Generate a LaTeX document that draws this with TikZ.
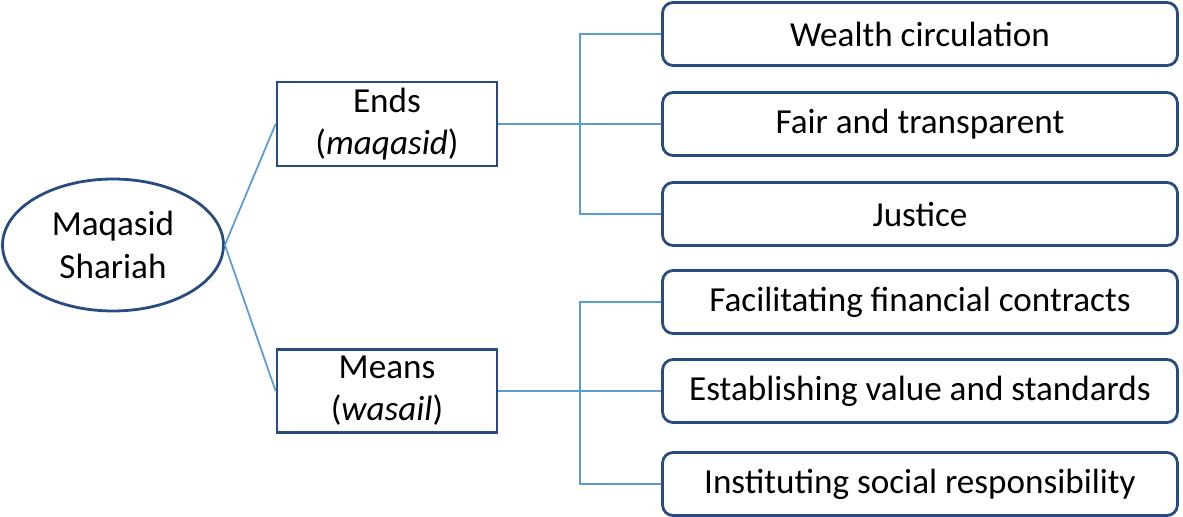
\documentclass[tikz,border=0pt]{standalone}
\usepackage{fontspec}
\setmainfont{Carlito}
\usetikzlibrary{shapes.geometric}
\definecolor{boxblue}{rgb}{0.16, 0.30, 0.50}
\definecolor{linkblue}{rgb}{0.36, 0.61, 0.84}

\begin{document}
\begin{tikzpicture}[x=0.02cm, y=-0.02cm, font=\fontsize{20}{24}\selectfont,
	box/.style={draw=boxblue, line width=1.6pt, align=center},
	goal/.style={box, rounded corners=6pt, minimum width=10.3cm, minimum height=1.26cm},
	link/.style={draw=linkblue, line width=1pt}]
				\useasboundingbox (0,0) rectangle (1183,517);
				\node[box, ellipse, minimum width=4.42cm, minimum height=2.64cm] (root) at (113,245) {Maqasid\\Shariah};
				\node[box, minimum width=4.4cm, minimum height=1.68cm] (ends) at (387,124) {Ends\\(\textit{maqasid})};
				\node[box, minimum width=4.4cm, minimum height=1.66cm] (means) at (387,391) {Means\\(\textit{wasail})};
				
				\node[goal] (g1) at (920,34) {Wealth circulation};
				\node[goal] (g2) at (920,124) {Fair and transparent};
				\node[goal] (g3) at (920,214) {Justice};
				\node[goal] (g4) at (920,302) {Facilitating financial contracts};
				\node[goal] (g5) at (920,391) {Establishing value and standards};
				\node[goal] (g6) at (920,484) {Instituting social responsibility};
				
				\coordinate (e) at (580,124);
				\coordinate (m) at (580,391);
				\draw[link] (root.east) -- (ends.west);
				\draw[link] (root.east) -- (means.west);
				\draw[link] (ends.east) -- (g2.west);
				\draw[link] (means.east) -- (g5.west);
				\draw[link] (g1.west) -| (e) |- (g3.west);
				\draw[link] (g4.west) -| (m) |- (g6.west);
\end{tikzpicture}
\end{document}
